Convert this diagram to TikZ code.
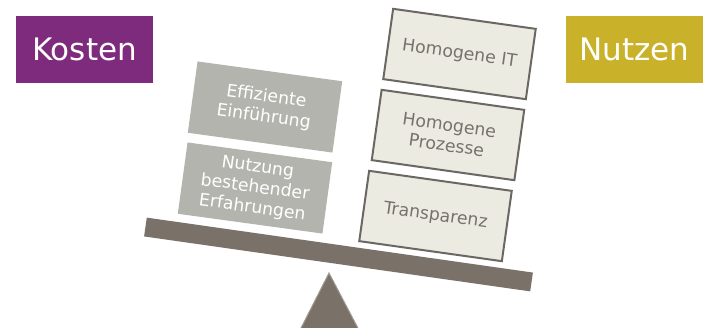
\documentclass[tikz,border=0pt]{standalone}
\usepackage{fontspec}
\setmainfont{DejaVu Sans}
\definecolor{kostenc}{HTML}{7E2B7D}
\definecolor{nutzenc}{HTML}{C9B12A}
\definecolor{beamc}{HTML}{7A7269}
\definecolor{leftfill}{HTML}{B4B4AE}
\definecolor{rightfill}{HTML}{ECEBE2}
\definecolor{rightline}{HTML}{6B6762}
\definecolor{rightText}{HTML}{77726C}
\definecolor{triline}{HTML}{A39B92}
\begin{document}
\begin{tikzpicture}[x=1pt,y=-1pt,
  header/.style={minimum width=137pt,minimum height=67pt,inner sep=0pt,text=white,
    font=\fontsize{31}{34}\selectfont},
  costbox/.style={fill=leftfill,minimum width=146pt,minimum height=72pt,inner sep=0pt,
    rotate=-7.8,text=white,align=center,font=\fontsize{17.3}{20.5}\selectfont},
  gainbox/.style={fill=rightfill,draw=rightline,line width=2pt,minimum width=144pt,
    minimum height=71pt,inner sep=0pt,rotate=-8,text=rightText,align=center,
    font=\fontsize{17.3}{20.5}\selectfont}]
\useasboundingbox (0,0) rectangle (710,327);
\node[header,fill=kostenc] (kosten) at (84.5,49.5) {Kosten};
\node[header,fill=nutzenc] (nutzen) at (634.5,49.5) {Nutzen};
% triangle
\begin{scope}
\clip (0,0) rectangle (710,327);
\coordinate (apex) at (329,273);
\coordinate (bl) at (299,332);
\coordinate (br) at (360,332);
\fill[beamc] (apex) -- (br) -- (bl) -- cycle;
\draw[triline,line width=1pt] (bl) -- (apex) -- (br);
\end{scope}
% beam
\node[fill=beamc,minimum width=390pt,minimum height=19pt,inner sep=0pt,rotate=-8.1] (beam) at (338.5,254.5) {};
% boxes
\node[costbox] (eff) at (265,107) {Effiziente\\Einführung};
\node[costbox] (nutz) at (255,188) {Nutzung\\bestehender\\Erfahrungen};
\node[gainbox] (hit) at (459.5,54) {Homogene IT};
\node[gainbox] (hpr) at (448,135) {Homogene\\Prozesse};
\node[gainbox] (tra) at (435.5,216) {Transparenz};
\end{tikzpicture}
\end{document}
